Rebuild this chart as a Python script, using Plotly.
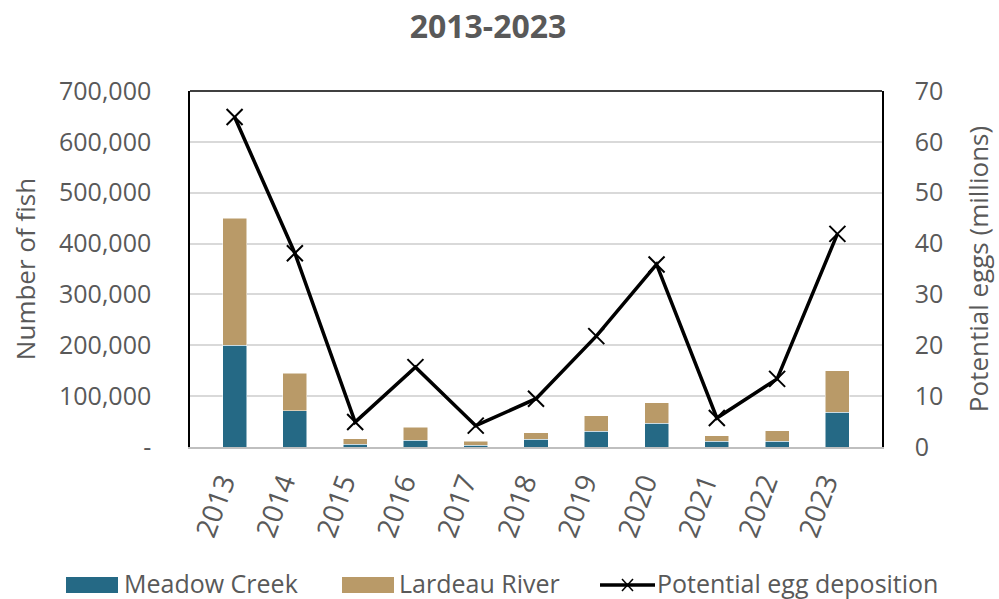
import plotly.graph_objects as go

years = ["2013", "2014", "2015", "2016", "2017", "2018", "2019", "2020", "2021", "2022", "2023"]
meadow_creek = [200000, 71000, 5500, 13000, 3500, 15000, 31000, 46500, 11300, 11300, 68000]
lardeau_total = [450000, 145500, 16600, 38700, 11000, 28000, 61500, 87500, 22500, 32000, 150000]
lardeau_river = [t - m for t, m in zip(lardeau_total, meadow_creek)]
egg_deposition = [64.9, 38.1, 4.9, 15.7, 4.2, 9.5, 21.8, 35.9, 5.7, 13.4, 41.9]

left_ticks = [0, 100000, 200000, 300000, 400000, 500000, 600000, 700000]
left_labels = ["-", "100,000", "200,000", "300,000", "400,000", "500,000", "600,000", "700,000"]
right_ticks = [0, 10, 20, 30, 40, 50, 60, 70]

series_names = ["Meadow Creek", "Lardeau River", "Potential egg deposition"]
C_MEADOW = "#256985"
C_LARDEAU = "#B99A68"

FONT = "Open Sans, Lato, sans-serif"
GREY = "#595959"

W, H = 999, 599
OFF = 0  # page body margin removed via post_script
# plot area in page pixels: x 190..882, y 91..447
L = 190 - OFF
R = W - (882 - OFF)
T = 91 - OFF
B = H - (447 - OFF)
PW, PH = W - L - R, H - T - B


def px(x):
    return (x - OFF - L) / PW


def py(y):
    return (H - B - (y - OFF)) / PH


fig = go.Figure()
fig.add_trace(go.Bar(x=years, y=meadow_creek, name=series_names[0], showlegend=False,
                     marker=dict(color=C_MEADOW, line=dict(color="white", width=0.5))))
fig.add_trace(go.Bar(x=years, y=lardeau_river, name=series_names[1], showlegend=False,
                     marker=dict(color=C_LARDEAU, line=dict(color="white", width=0.5))))
fig.add_trace(go.Scatter(x=years, y=egg_deposition, name=series_names[2], yaxis="y2",
                         mode="lines+markers", showlegend=False,
                         line=dict(color="black", width=3.5),
                         marker=dict(symbol="x-thin", size=16, line=dict(color="black", width=2))))

# custom legend (wide swatches as in the reference)
LEG_Y = 583
shapes = [
    dict(type="line", xref="paper", yref="paper", x0=0, x1=1, y0=1, y1=1,
         line=dict(color="black", width=1.5)),
    dict(type="rect", xref="paper", yref="paper", x0=px(66), x1=px(118), y0=py(LEG_Y - 6), y1=py(LEG_Y + 10),
         fillcolor=C_MEADOW, line=dict(width=0)),
    dict(type="rect", xref="paper", yref="paper", x0=px(342), x1=px(394), y0=py(LEG_Y - 6), y1=py(LEG_Y + 10),
         fillcolor=C_LARDEAU, line=dict(width=0)),
    dict(type="line", xref="paper", yref="paper", x0=px(600), x1=px(655), y0=py(LEG_Y + 2), y1=py(LEG_Y + 2),
         line=dict(color="black", width=3.5)),
    dict(type="line", xref="paper", yref="paper", x0=px(622), x1=px(633), y0=py(LEG_Y - 4), y1=py(LEG_Y + 8),
         line=dict(color="black", width=1.5)),
    dict(type="line", xref="paper", yref="paper", x0=px(622), x1=px(633), y0=py(LEG_Y + 8), y1=py(LEG_Y - 4),
         line=dict(color="black", width=1.5)),
]
annotations = [
    dict(text=series_names[0], xref="paper", yref="paper", x=px(122), y=py(LEG_Y),
         xanchor="left", yanchor="middle", showarrow=False, font=dict(size=25, color=GREY)),
    dict(text=series_names[1], xref="paper", yref="paper", x=px(397), y=py(LEG_Y),
         xanchor="left", yanchor="middle", showarrow=False, font=dict(size=25, color=GREY)),
    dict(text=series_names[2], xref="paper", yref="paper", x=px(655), y=py(LEG_Y),
         xanchor="left", yanchor="middle", showarrow=False, font=dict(size=25, color=GREY)),
]

fig.update_layout(
    width=W, height=H,
    barmode="stack", bargap=0.6,
    plot_bgcolor="white", paper_bgcolor="white",
    margin=dict(l=L, r=R, t=T, b=B, autoexpand=False),
    font=dict(family=FONT, color=GREY),
    showlegend=False,
    title=dict(text="<b>2013-2023</b>", x=(488 - OFF) / W, xanchor="center", y=1 - (27 - OFF) / H,
               yanchor="middle", font=dict(size=32, color=GREY, family=FONT)),
    xaxis=dict(tickangle=-70, tickfont=dict(size=28, color=GREY), showline=True,
               linecolor="#BFBFBF", linewidth=2, ticks="outside", ticklen=6, tickcolor="rgba(0,0,0,0)",
               ticklabelshift=-12, showgrid=False, automargin=False),
    yaxis=dict(range=[0, 700000], tickvals=left_ticks, ticktext=left_labels,
               tickfont=dict(size=25, color=GREY), showgrid=True, gridcolor="#D9D9D9", gridwidth=2,
               showline=True, linecolor="black", linewidth=1.5, ticks="", ticklabelstandoff=32,
               title=dict(text="Number of fish", font=dict(size=26, color=GREY), standoff=16),
               zeroline=False, automargin=False),
    yaxis2=dict(range=[0, 70], tickvals=right_ticks, overlaying="y", side="right",
                tickfont=dict(size=25, color=GREY), showgrid=False,
                showline=True, linecolor="black", linewidth=1.5, ticks="", ticklabelstandoff=26,
                title=dict(text="Potential eggs (millions)", font=dict(size=26, color=GREY), standoff=27),
                zeroline=False, automargin=False),
    shapes=shapes,
    annotations=annotations,
)

fig.write_html("out.html", config={"displayModeBar": False},
               post_script="document.body.style.margin='0';")
